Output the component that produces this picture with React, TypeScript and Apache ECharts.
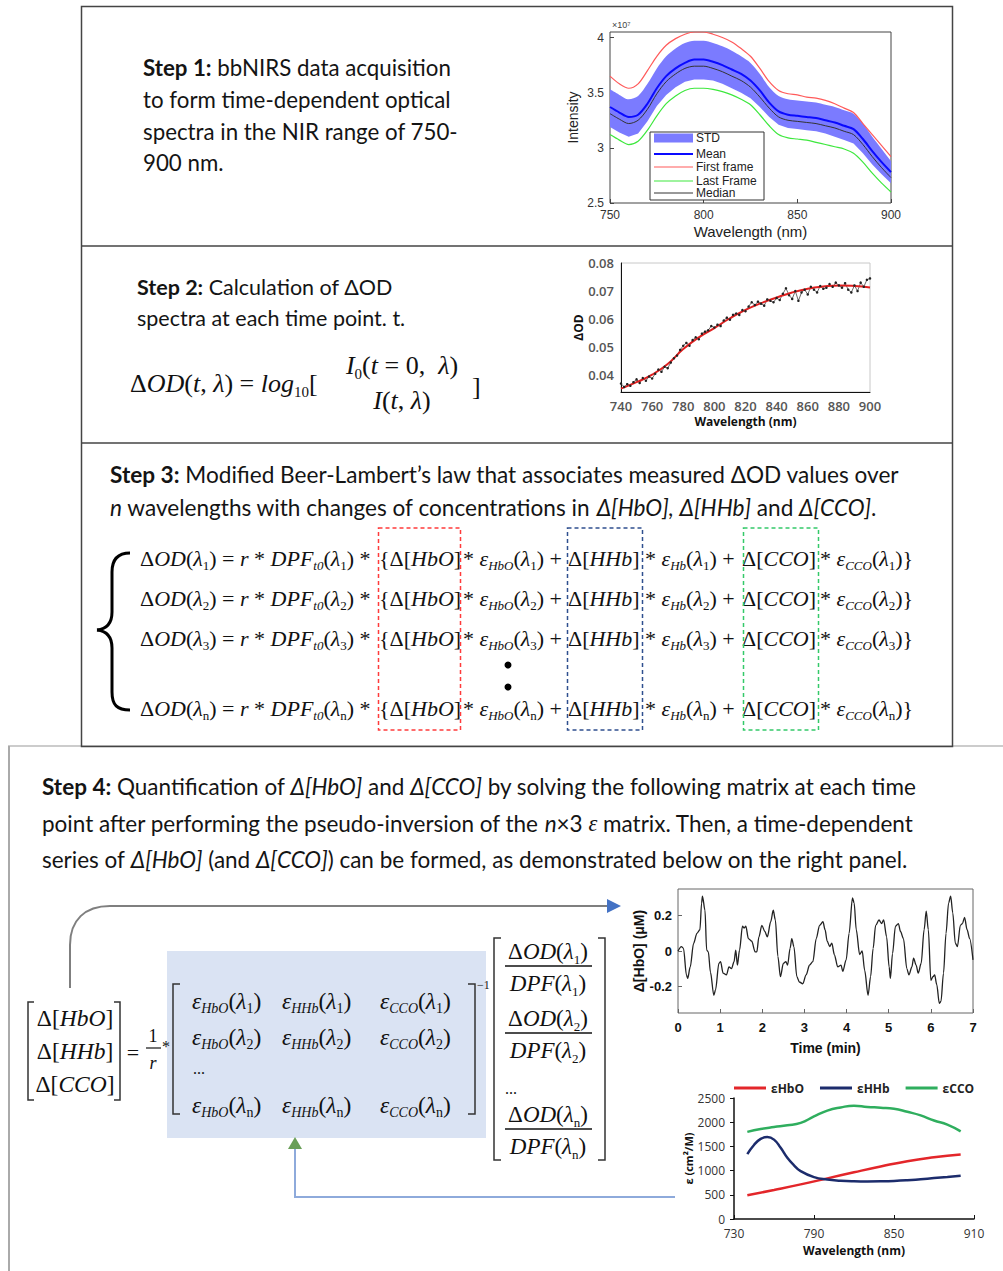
import React, { useEffect, useRef } from 'react';
import * as echarts from 'echarts';

// ---------- Step 1: intensity spectra (x10^7) ----------
const intensityWavelengths = ['750','755','760','765','770','775','780','785','790','795','800','805','810','815','820','825','830','835','840','845','850','855','860','865','870','875','880','885','890','895','900'];
const intensityMean = [3.37,3.32,3.28,3.30,3.40,3.54,3.65,3.72,3.77,3.80,3.80,3.78,3.75,3.71,3.67,3.61,3.52,3.41,3.33,3.30,3.29,3.28,3.27,3.25,3.23,3.20,3.17,3.08,2.97,2.87,2.78];
const intensityStdUpper = [3.53,3.48,3.44,3.47,3.58,3.72,3.83,3.90,3.95,3.97,3.97,3.95,3.92,3.88,3.83,3.77,3.67,3.55,3.47,3.44,3.43,3.42,3.41,3.39,3.37,3.34,3.31,3.22,3.10,2.99,2.88];
const intensityStdLower = [3.19,3.14,3.10,3.13,3.24,3.38,3.48,3.55,3.60,3.62,3.62,3.61,3.58,3.54,3.50,3.45,3.37,3.28,3.21,3.18,3.17,3.16,3.15,3.13,3.10,3.07,3.04,2.95,2.85,2.76,2.68];
const intensityFirst = [3.65,3.58,3.54,3.58,3.70,3.83,3.93,3.99,4.03,4.05,4.05,4.03,4.00,3.96,3.90,3.83,3.72,3.60,3.52,3.49,3.48,3.46,3.45,3.43,3.40,3.36,3.32,3.22,3.12,3.02,2.92];
const intensityLast = [3.12,3.07,3.03,3.06,3.16,3.29,3.40,3.47,3.52,3.54,3.54,3.53,3.51,3.48,3.44,3.39,3.30,3.20,3.12,3.09,3.08,3.07,3.05,3.03,3.01,2.99,2.95,2.87,2.77,2.68,2.60];
const intensityMedian = [3.31,3.26,3.22,3.25,3.35,3.49,3.60,3.67,3.72,3.74,3.74,3.72,3.69,3.65,3.61,3.55,3.46,3.36,3.28,3.25,3.24,3.23,3.22,3.20,3.18,3.15,3.12,3.03,2.92,2.82,2.73];
const intensityTicks = [2.5, 3, 3.5, 4];

// ---------- Step 2: delta OD spectrum ----------
const odMeasured = [
  [740,0.0370],[742,0.0358],[744,0.0368],[746,0.0362],[748,0.0375],[750,0.0385],[752,0.0372],[754,0.0390],[756,0.0380],[758,0.0395],
  [760,0.0388],[762,0.0405],[764,0.0420],[766,0.0412],[768,0.0430],[770,0.0425],[772,0.0445],[774,0.0460],[776,0.0470],[778,0.0490],
  [780,0.0505],[782,0.0515],[784,0.0505],[786,0.0525],[788,0.0535],[790,0.0528],[792,0.0548],[794,0.0555],[796,0.0560],[798,0.0575],
  [800,0.0570],[802,0.0580],[804,0.0575],[806,0.0595],[808,0.0605],[810,0.0598],[812,0.0615],[814,0.0620],[816,0.0615],[818,0.0632],
  [820,0.0628],[822,0.0645],[824,0.0660],[826,0.0650],[828,0.0662],[830,0.0655],[832,0.0648],[834,0.0670],[836,0.0665],[838,0.0660],
  [840,0.0675],[842,0.0668],[844,0.0690],[846,0.0710],[848,0.0685],[850,0.0672],[852,0.0700],[854,0.0665],[856,0.0695],[858,0.0705],
  [860,0.0688],[862,0.0715],[864,0.0705],[866,0.0695],[868,0.0718],[870,0.0708],[872,0.0712],[874,0.0725],[876,0.0715],[878,0.0730],
  [880,0.0720],[882,0.0712],[884,0.0728],[886,0.0705],[888,0.0695],[890,0.0720],[892,0.0700],[894,0.0730],[896,0.0715],[898,0.0740],[900,0.0745]
];
const odFit = [[740,0.0352],[750,0.0375],[760,0.0402],[770,0.0440],[780,0.0493],[790,0.0535],[800,0.0568],[810,0.0603],[820,0.0633],[830,0.0657],[840,0.0677],[850,0.0695],[860,0.0708],[870,0.0716],[880,0.0720],[890,0.0718],[900,0.0713]];
const odTicks = [0.04, 0.05, 0.06, 0.07, 0.08];

// ---------- Step 4: HbO time series ----------
const hboSeries = [
  [0,0],[0.08,0.025],[0.13,0.015],[0.2,-0.135],[0.23,-0.155],[0.29,-0.09],[0.37,0.043],[0.45,0.10],[0.52,0.12],[0.56,0.27],[0.58,0.31],[0.64,0.23],[0.68,0.005],[0.72,-0.005],[0.77,-0.12],[0.85,-0.25],[0.89,-0.22],[0.97,-0.07],
  [1.01,-0.06],[1.07,-0.125],[1.15,-0.135],[1.21,-0.09],[1.27,-0.10],[1.33,-0.06],[1.37,0.005],[1.41,-0.08],[1.46,0.005],[1.53,0.14],[1.57,0.13],[1.61,0.14],[1.67,0.07],[1.75,0.055],[1.83,-0.005],[1.87,-0.005],[1.92,0.08],[1.99,0.145],
  [2.06,0.11],[2.12,0.08],[2.2,0.165],[2.26,0.23],[2.31,0.175],[2.37,-0.03],[2.43,-0.145],[2.5,-0.07],[2.56,-0.06],[2.6,-0.08],[2.66,0.015],[2.7,0.07],[2.75,0.025],[2.82,-0.145],[2.88,-0.175],[2.96,-0.185],
  [3.04,-0.135],[3.12,-0.08],[3.2,-0.06],[3.28,0.07],[3.36,0.145],[3.44,0.165],[3.49,0.12],[3.54,0.055],[3.6,0.025],[3.65,0.045],[3.71,-0.02],[3.79,-0.09],[3.87,-0.08],[3.91,-0.115],[3.99,-0.05],
  [4.06,0.10],[4.14,0.30],[4.18,0.27],[4.23,0.12],[4.31,-0.02],[4.37,0.0],[4.43,-0.11],[4.51,-0.25],[4.57,-0.145],[4.63,0.015],[4.69,0.145],[4.77,0.175],[4.83,0.155],[4.88,0.175],[4.95,0.08],
  [5.01,-0.09],[5.04,-0.155],[5.09,-0.015],[5.16,0.14],[5.23,0.155],[5.28,0.11],[5.35,0.07],[5.43,-0.10],[5.48,-0.135],[5.55,-0.09],[5.59,-0.04],[5.65,-0.08],[5.7,-0.125],[5.77,-0.07],[5.84,0.12],[5.89,0.225],[5.94,0.12],
  [6.0,-0.165],[6.05,-0.145],[6.09,-0.135],[6.14,-0.19],[6.2,-0.295],[6.24,-0.285],[6.3,-0.125],[6.36,0.10],[6.42,0.27],[6.47,0.31],[6.52,0.215],[6.58,0.045],[6.63,0.025],[6.7,0.145],[6.75,0.155],[6.8,0.19],[6.86,0.12],[6.92,0.07],[7.0,-0.05]
];
const hboTicks = [-0.2, 0, 0.2];

// ---------- Step 4: extinction coefficients ----------
const epsHbO = [[740,490],[760,600],[780,715],[800,840],[820,965],[840,1085],[860,1195],[880,1275],[900,1335]];
const epsHHb = [[740,1340],[745,1530],[750,1655],[755,1695],[760,1640],[765,1470],[770,1265],[775,1110],[780,990],[790,865],[800,815],[810,792],[820,780],[830,776],[840,778],[850,785],[860,800],[870,822],[880,845],[890,868],[900,893]];
const epsCCO = [[740,1800],[750,1860],[760,1900],[770,1935],[780,1985],[790,2120],[800,2240],[810,2305],[820,2340],[830,2315],[840,2300],[850,2280],[860,2215],[870,2140],[880,2035],[890,1950],[900,1810]];
const epsXTicks = [730, 790, 850, 910];

// ---------- fonts ----------
const SANS = 'Lato, "Open Sans", sans-serif';
const SERIF = '"Liberation Serif", "DejaVu Serif", serif';
const ARIAL = '"Liberation Sans", Arial, sans-serif';
const NARROW = '"Liberation Sans Narrow", "Liberation Sans", Arial, sans-serif';
const CALI = '"Open Sans", Lato, sans-serif';

function textRich(size: number) {
  return {
    b: { fontFamily: SANS, fontSize: size, fontWeight: 'bold', fill: '#141414' },
    it: { fontFamily: SANS, fontSize: size, fontStyle: 'italic', fill: '#141414' },
    ge: { fontFamily: SERIF, fontSize: size, fontStyle: 'italic', fill: '#141414' },
  };
}

function txt(x: number, y: number, text: string, size = 21) {
  return {
    type: 'text', x, y, z: 50,
    style: {
      text, fontFamily: SANS, fontSize: size, fill: '#141414',
      align: 'left', verticalAlign: 'middle', textAlign: 'left', textVerticalAlign: 'middle',
      rich: textRich(size),
    },
  };
}

function eqRich(size: number) {
  const sub = Math.round(size * 0.58);
  return {
    n: { fontFamily: SERIF, fontSize: size, fill: '#111', lineHeight: size + 6 },
    i: { fontFamily: SERIF, fontSize: size, fontStyle: 'italic', fill: '#111', lineHeight: size + 6 },
    s: { fontFamily: SERIF, fontSize: sub, fontStyle: 'italic', fill: '#111', lineHeight: Math.round(size * 0.62), verticalAlign: 'bottom' },
    sn: { fontFamily: SERIF, fontSize: sub, fill: '#111', lineHeight: Math.round(size * 0.62), verticalAlign: 'bottom' },
    sup: { fontFamily: SERIF, fontSize: sub, fill: '#111', lineHeight: Math.round(size * 0.62), verticalAlign: 'top' },
  };
}

function eq(x: number, y: number, text: string, size = 22, align = 'left') {
  return {
    type: 'text', x, y, z: 50,
    style: {
      text, fontFamily: SERIF, fontSize: size, fill: '#111', lineHeight: size + 6,
      align, verticalAlign: 'middle', textAlign: align, textVerticalAlign: 'middle',
      rich: eqRich(size),
    },
  };
}

function pl(points: number[][], stroke: string, lineWidth = 1.5, extra: any = {}) {
  return { type: 'polyline', z: 40, shape: { points }, style: { stroke, lineWidth, fill: 'none', ...extra } };
}

function buildGraphics() {
  const g: any[] = [];
  // panel frames
  g.push(pl([[8, 746], [1003, 746]], '#9a9a9a', 1.2));
  g.push(pl([[9, 746], [9, 1271]], '#aaaaaa', 2));
  g.push({ type: 'rect', z: 41, shape: { x: 81.5, y: 6.5, width: 871, height: 740 }, style: { fill: 'none', stroke: '#444', lineWidth: 1.5 } });
  g.push(pl([[81, 246], [952, 246]], '#444', 1.5));
  g.push(pl([[81, 443], [952, 443]], '#444', 1.5));

  // Step 1 text
  g.push(txt(143, 67, '{b|Step 1:} bbNIRS data acquisition', 22.3));
  g.push(txt(143, 99, 'to form time-dependent optical', 22.3));
  g.push(txt(143, 131, 'spectra in the NIR range of 750-', 22.3));
  g.push(txt(143, 162, '900 nm.', 22.3));
  // Step 1 chart extras
  g.push({ type: 'text', x: 612, y: 25, z: 60, style: { text: '×10⁷', fontFamily: ARIAL, fontSize: 9, fill: '#444', align: 'left', verticalAlign: 'middle' } });
  g.push({ type: 'rect', z: 60, shape: { x: 650, y: 132, width: 114, height: 68 }, style: { fill: '#fff', stroke: '#333', lineWidth: 1 } });
  g.push({ type: 'rect', z: 61, shape: { x: 654, y: 133.5, width: 39, height: 9 }, style: { fill: '#7b7bff' } });
  const legendLines: [number, string, number, string][] = [[154, '#0a0aff', 2, 'Mean'], [167, '#ff5a5a', 1.2, 'First frame'], [181, '#3ee83e', 1.2, 'Last Frame'], [193, '#333', 1, 'Median']];
  g.push({ type: 'text', x: 696, y: 138, z: 61, style: { text: 'STD', fontFamily: ARIAL, fontSize: 12, fill: '#222', align: 'left', verticalAlign: 'middle' } });
  legendLines.forEach(([y, c, w, t]) => {
    g.push({ type: 'line', z: 61, shape: { x1: 654, y1: y, x2: 693, y2: y }, style: { stroke: c, lineWidth: w } });
    g.push({ type: 'text', x: 696, y, z: 61, style: { text: t, fontFamily: ARIAL, fontSize: 12, fill: '#222', align: 'left', verticalAlign: 'middle' } });
  });

  // Step 2 text and formula
  g.push(txt(137, 287, '{b|Step 2:} Calculation of ΔOD', 21.5));
  g.push(txt(137, 318, 'spectra at each time point. t.', 21.5));
  g.push(eq(130, 383, '{n|Δ}{i|OD}{n|(}{i|t}{n|, }{i|λ}{n|) = }{i|log}{sn|10}{n|[}', 26));
  g.push(eq(402, 365, '{i|I}{sn|0}{n|(}{i|t}{n| = 0,  }{i|λ}{n|)}', 26, 'center'));
  g.push(eq(402, 400, '{i|I}{n|(}{i|t}{n|, }{i|λ}{n|)}', 26, 'center'));
  g.push(eq(472, 386, '{n|]}', 26));

  // Step 3 text
  g.push(txt(110, 474, '{b|Step 3:} Modified Beer-Lambert’s law that associates measured ΔOD values over', 22.6));
  g.push(txt(110, 507, '{it|n} wavelengths with changes of concentrations in {it|Δ[HbO],} {it|Δ[HHb]} and {it|Δ[CCO]}.', 22.6));

  // Step 3 equations
  const rows: [string, number][] = [['1', 558], ['2', 598], ['3', 638], ['n', 708]];
  rows.forEach(([k, y]) => {
    g.push(eq(140, y, `{n|Δ}{i|OD}{n|(}{i|λ}{sn|${k}}{n|) = }{i|r}{n| * }{i|DPF}{s|t0}{n|(}{i|λ}{sn|${k}}{n|) *}`));
    g.push(eq(379, y, `{{n|Δ[}{i|HbO}{n|]}`));
    g.push(eq(463, y, `{n|* }{i|ε}{s|HbO}{n|(}{i|λ}{sn|${k}}{n|) +}`));
    g.push(eq(568, y, `{n|Δ[}{i|HHb}{n|]}`));
    g.push(eq(645, y, `{n|* }{i|ε}{s|Hb}{n|(}{i|λ}{sn|${k}}{n|) +}`));
    g.push(eq(742, y, `{n|Δ[}{i|CCO}{n|]}`));
    g.push(eq(820, y, `{n|* }{i|ε}{s|CCO}{n|(}{i|λ}{sn|${k}}{n|)}}`));
  });
  g.push({ type: 'circle', z: 50, shape: { cx: 508, cy: 665, r: 3.5 }, style: { fill: '#000' } });
  g.push({ type: 'circle', z: 50, shape: { cx: 508, cy: 687, r: 3.5 }, style: { fill: '#000' } });
  // brace
  const brace = { stroke: '#000', lineWidth: 3, fill: 'none' };
  g.push({ type: 'bezierCurve', z: 50, shape: { x1: 130, y1: 553, cpx1: 117, cpy1: 553, cpx2: 112, cpy2: 560, x2: 112, y2: 572 }, style: brace });
  g.push(pl([[112, 572], [112, 612]], '#000', 3));
  g.push({ type: 'bezierCurve', z: 50, shape: { x1: 112, y1: 612, cpx1: 112, cpy1: 624, cpx2: 106, cpy2: 629, x2: 97, y2: 630 }, style: brace });
  g.push({ type: 'bezierCurve', z: 50, shape: { x1: 97, y1: 630, cpx1: 106, cpy1: 631, cpx2: 112, cpy2: 636, x2: 112, y2: 648 }, style: brace });
  g.push(pl([[112, 648], [112, 692]], '#000', 3));
  g.push({ type: 'bezierCurve', z: 50, shape: { x1: 112, y1: 692, cpx1: 112, cpy1: 705, cpx2: 117, cpy2: 710, x2: 130, y2: 710 }, style: brace });
  // dashed boxes
  const dash = (x: number, w: number, c: string) => ({ type: 'rect', z: 51, shape: { x, y: 528, width: w, height: 202 }, style: { fill: 'none', stroke: c, lineWidth: 1.5, lineDash: [4, 3] } });
  g.push(dash(378.5, 82, '#ff3b3b'));
  g.push(dash(567.5, 75, '#2f4f8f'));
  g.push(dash(743.5, 75, '#34c96a'));

  // Step 4 text
  g.push(txt(42, 786, '{b|Step 4:} Quantification of {it|Δ[HbO]} and {it|Δ[CCO]} by solving the following matrix at each time', 22.5));
  g.push(txt(42, 823, 'point after performing the pseudo-inversion of the {it|n}×3 {ge|ε} matrix. Then, a time-dependent', 22.5));
  g.push(txt(42, 859, 'series of {it|Δ[HbO]} (and {it|Δ[CCO]}) can be formed, as demonstrated below on the right panel.', 22.5));

  // arrows
  g.push(pl([[70, 988], [70, 945]], '#7f7f7f', 2));
  g.push({ type: 'bezierCurve', z: 40, shape: { x1: 70, y1: 945, cpx1: 70, cpy1: 920, cpx2: 85, cpy2: 906, x2: 110, y2: 906 }, style: { stroke: '#7f7f7f', lineWidth: 2, fill: 'none' } });
  g.push(pl([[110, 906], [608, 906]], '#7f7f7f', 2));
  g.push({ type: 'polygon', z: 41, shape: { points: [[607, 899], [621, 906], [607, 913]] }, style: { fill: '#4472c4' } });
  g.push(pl([[675, 1197], [295, 1197], [295, 1148]], '#8eaadb', 2));
  g.push({ type: 'polygon', z: 41, shape: { points: [[288, 1149], [295, 1137], [302, 1149]] }, style: { fill: '#6a9f58' } });

  // matrix equation
  g.push({ type: 'rect', z: 20, shape: { x: 167, y: 951, width: 319, height: 187 }, style: { fill: '#dae3f3' } });
  g.push(pl([[34, 1002], [28, 1002], [28, 1100], [34, 1100]], '#333', 1.5));
  g.push(pl([[114, 1002], [120, 1002], [120, 1100], [114, 1100]], '#333', 1.5));
  g.push(eq(75, 1018, '{n|Δ[}{i|HbO}{n|]}', 23.5, 'center'));
  g.push(eq(75, 1051, '{n|Δ[}{i|HHb}{n|]}', 23.5, 'center'));
  g.push(eq(75, 1084, '{n|Δ[}{i|CCO}{n|]}', 23.5, 'center'));
  g.push(eq(133, 1052, '{n|=}', 22, 'center'));
  g.push(eq(153, 1036, '{n|1}', 18, 'center'));
  g.push(pl([[146, 1048], [161, 1048]], '#111', 1.2));
  g.push(eq(153, 1063, '{i|r}', 18, 'center'));
  g.push(eq(166, 1046, '{n|*}', 16, 'center'));
  g.push(pl([[180, 984], [173, 984], [173, 1114], [180, 1114]], '#333', 1.5));
  g.push(pl([[468, 984], [475, 984], [475, 1114], [468, 1114]], '#333', 1.5));
  g.push(eq(477, 985, '{n|−1}', 12));
  const mrows: [string, number][] = [['1', 1001], ['2', 1037], ['n', 1105]];
  mrows.forEach(([k, y]) => {
    g.push(eq(192, y, `{i|ε}{s|HbO}{n|(}{i|λ}{sn|${k}}{n|)}`, 23.5));
    g.push(eq(282, y, `{i|ε}{s|HHb}{n|(}{i|λ}{sn|${k}}{n|)}`, 23.5));
    g.push(eq(380, y, `{i|ε}{s|CCO}{n|(}{i|λ}{sn|${k}}{n|)}`, 23.5));
  });
  g.push(eq(193, 1068, '{n|...}', 16));
  g.push(pl([[501, 938], [494, 938], [494, 1160], [501, 1160]], '#333', 1.5));
  g.push(pl([[598, 938], [605, 938], [605, 1160], [598, 1160]], '#333', 1.5));
  const frows: [string, number][] = [['1', 951], ['2', 1018], ['n', 1114]];
  frows.forEach(([k, y]) => {
    g.push(eq(548, y, `{n|Δ}{i|OD}{n|(}{i|λ}{sn|${k}}{n|)}`, 23, 'center'));
    g.push(pl([[505, y + 15], [592, y + 15]], '#111', 1.3));
    g.push(eq(548, y + 32, `{i|DPF}{n|(}{i|λ}{sn|${k}}{n|)}`, 23, 'center'));
  });
  g.push(eq(505, 1088, '{n|...}', 16));
  return g;
}

function buildOption() {
  const band = intensityStdUpper.map((u, i) => +(u - intensityStdLower[i]).toFixed(3));
  const axisTxt = (family: string, size: number, color: string, weight: any = 'normal') => ({ fontFamily: family, fontSize: size, color, fontWeight: weight });
  return {
    animation: false,
    backgroundColor: '#ffffff',
    legend: {
      data: ['εHbO', 'εHHb', 'εCCO'], left: 734, top: 1082, itemWidth: 32, itemHeight: 3, itemGap: 16, icon: 'rect',
      textStyle: { fontFamily: CALI, fontSize: 12, fontWeight: 'bold', color: '#222' }, padding: 0,
    },
    grid: [
      { left: 610, top: 32, width: 281, height: 171, show: true, borderColor: '#444', borderWidth: 1, backgroundColor: 'transparent', containLabel: false, outerBoundsMode: 'none' },
      { left: 621, top: 263, width: 249, height: 129, show: true, borderColor: '#c8c8c8', borderWidth: 1, backgroundColor: 'transparent', containLabel: false, outerBoundsMode: 'none' },
      { left: 678, top: 889, width: 295, height: 124, show: true, borderColor: '#666', borderWidth: 1, backgroundColor: 'transparent', containLabel: false, outerBoundsMode: 'none' },
      { left: 734, top: 1098, width: 240, height: 121, show: false, containLabel: false, outerBoundsMode: 'none' },
    ],
    xAxis: [
      {
        gridIndex: 0, type: 'category', data: intensityWavelengths, boundaryGap: false,
        axisLine: { show: false, onZero: false }, axisTick: { show: true, inside: true, length: 4, interval: 9, lineStyle: { color: '#444' } },
        axisLabel: { interval: 9, margin: 6, ...axisTxt(ARIAL, 12, '#333') }, splitLine: { show: false },
        name: 'Wavelength (nm)', nameLocation: 'middle', nameGap: 21, nameTextStyle: axisTxt(ARIAL, 15, '#222'),
      },
      {
        gridIndex: 1, type: 'value', min: 740, max: 900, interval: 20,
        axisLine: { show: true, onZero: false, lineStyle: { color: '#111', width: 1 } }, axisTick: { show: false },
        axisLabel: { margin: 7, ...axisTxt(CALI, 13, '#555', 600) }, splitLine: { show: false },
        name: 'Wavelength (nm)', nameLocation: 'middle', nameGap: 23, nameTextStyle: axisTxt(CALI, 12, '#111', 'bold'),
      },
      {
        gridIndex: 2, type: 'value', min: 0, max: 7, interval: 1,
        axisLine: { show: false, onZero: false }, axisTick: { show: true, inside: true, length: 4, lineStyle: { color: '#666' } },
        axisLabel: { margin: 8, ...axisTxt(NARROW, 13, '#111', 'bold') }, splitLine: { show: false },
        name: 'Time (min)', nameLocation: 'middle', nameGap: 28, nameTextStyle: axisTxt(NARROW, 14, '#111', 'bold'),
      },
      {
        gridIndex: 3, type: 'value', min: 730, max: 910,
        axisLine: { show: true, onZero: false, lineStyle: { color: '#111', width: 1.5 } },
        axisTick: { show: true, inside: true, length: 4, customValues: epsXTicks, lineStyle: { color: '#111' } },
        axisLabel: { margin: 8, customValues: epsXTicks, ...axisTxt(CALI, 12, '#333') }, splitLine: { show: false },
        name: 'Wavelength (nm)', nameLocation: 'middle', nameGap: 25, nameTextStyle: axisTxt(CALI, 12, '#111', 'bold'),
      },
    ],
    yAxis: [
      {
        gridIndex: 0, type: 'value', min: 2.5, max: 4.05,
        axisLine: { show: false, onZero: false },
        axisTick: { show: true, inside: true, length: 4, customValues: intensityTicks, lineStyle: { color: '#444' } },
        axisLabel: { margin: 6, customValues: intensityTicks, ...axisTxt(ARIAL, 12, '#333') }, splitLine: { show: false },
        name: 'Intensity', nameLocation: 'middle', nameGap: 30, nameTextStyle: axisTxt(ARIAL, 14, '#222'),
      },
      {
        gridIndex: 1, type: 'value', min: 0.034, max: 0.08,
        axisLine: { show: true, onZero: false, lineStyle: { color: '#111', width: 1 } }, axisTick: { show: false, customValues: odTicks },
        axisLabel: { margin: 7, customValues: odTicks, formatter: (v: number) => v.toFixed(2), ...axisTxt(CALI, 13, '#555', 600) }, splitLine: { show: false },
        name: 'ΔOD', nameLocation: 'middle', nameGap: 34, nameTextStyle: axisTxt(CALI, 12, '#111', 'bold'),
      },
      {
        gridIndex: 2, type: 'value', min: -0.35, max: 0.35,
        axisLine: { show: false, onZero: false },
        axisTick: { show: true, inside: true, length: 4, customValues: hboTicks, lineStyle: { color: '#666' } },
        axisLabel: { margin: 6, customValues: hboTicks, formatter: (v: number) => (Math.abs(v) < 1e-9 ? '0' : String(v)), ...axisTxt(NARROW, 13, '#111', 'bold') }, splitLine: { show: false },
        name: 'Δ[HbO] (μM)', nameLocation: 'middle', nameGap: 31, nameTextStyle: axisTxt(NARROW, 14, '#111', 'bold'),
      },
      {
        gridIndex: 3, type: 'value', min: 0, max: 2500, interval: 500,
        axisLine: { show: true, onZero: false, lineStyle: { color: '#111', width: 1.5 } },
        axisTick: { show: true, inside: false, length: 4, lineStyle: { color: '#111' } },
        axisLabel: { margin: 9, formatter: (v: number) => String(v), ...axisTxt(CALI, 12, '#333') }, splitLine: { show: false },
        name: 'ε (cm²/M)', nameLocation: 'middle', nameGap: 40, nameTextStyle: axisTxt(CALI, 11, '#111', 'bold'),
      },
    ],
    series: [
      { name: 'stdBase', type: 'line', xAxisIndex: 0, yAxisIndex: 0, stack: 'std', data: intensityStdLower, symbol: 'none', lineStyle: { opacity: 0 }, silent: true },
      { name: 'STD', type: 'line', xAxisIndex: 0, yAxisIndex: 0, stack: 'std', data: band, symbol: 'none', lineStyle: { opacity: 0 }, areaStyle: { color: '#7b7bff', opacity: 1 }, smooth: 0.3, silent: true },
      { name: 'First frame', type: 'line', xAxisIndex: 0, yAxisIndex: 0, data: intensityFirst, symbol: 'none', smooth: 0.3, lineStyle: { color: '#ff5a5a', width: 1.2 } },
      { name: 'Last Frame', type: 'line', xAxisIndex: 0, yAxisIndex: 0, data: intensityLast, symbol: 'none', smooth: 0.3, lineStyle: { color: '#3ee83e', width: 1.2 } },
      { name: 'Mean', type: 'line', xAxisIndex: 0, yAxisIndex: 0, data: intensityMean, symbol: 'none', smooth: 0.3, lineStyle: { color: '#0a0aff', width: 2 } },
      { name: 'Median', type: 'line', xAxisIndex: 0, yAxisIndex: 0, data: intensityMedian, symbol: 'none', smooth: 0.3, lineStyle: { color: '#333', width: 1 } },
      { name: 'ΔOD measured', type: 'line', xAxisIndex: 1, yAxisIndex: 1, data: odMeasured, symbol: 'circle', symbolSize: 2.5, showSymbol: true, itemStyle: { color: '#222' }, lineStyle: { color: '#444', width: 0.8 } },
      { name: 'ΔOD fit', type: 'line', xAxisIndex: 1, yAxisIndex: 1, data: odFit, symbol: 'none', smooth: true, lineStyle: { color: '#e02020', width: 2 } },
      { name: 'Δ[HbO]', type: 'line', xAxisIndex: 2, yAxisIndex: 2, data: hboSeries, symbol: 'none', smooth: 0.3, smoothMonotone: 'x', lineStyle: { color: '#222', width: 1.3 } },
      { name: 'εHbO', type: 'line', xAxisIndex: 3, yAxisIndex: 3, data: epsHbO, symbol: 'none', smooth: true, itemStyle: { color: '#e3262a' }, lineStyle: { color: '#e3262a', width: 2.5 } },
      { name: 'εHHb', type: 'line', xAxisIndex: 3, yAxisIndex: 3, data: epsHHb, symbol: 'none', smooth: true, itemStyle: { color: '#1c2c6c' }, lineStyle: { color: '#1c2c6c', width: 2.5 } },
      { name: 'εCCO', type: 'line', xAxisIndex: 3, yAxisIndex: 3, data: epsCCO, symbol: 'none', smooth: true, itemStyle: { color: '#2fae5e' }, lineStyle: { color: '#2fae5e', width: 2.5 } },
    ],
    graphic: { elements: buildGraphics() },
  };
}

export default function App() {
  const ref = useRef<HTMLDivElement>(null);
  useEffect(() => {
    if (!ref.current) return;
    const chart = echarts.init(ref.current, null, { renderer: 'svg' });
    chart.setOption(buildOption() as any);
    return () => chart.dispose();
  }, []);
  return <div ref={ref} style={{ position: 'absolute', left: 0, top: 0, width: 1003, height: 1271, background: '#fff' }} />;
}
